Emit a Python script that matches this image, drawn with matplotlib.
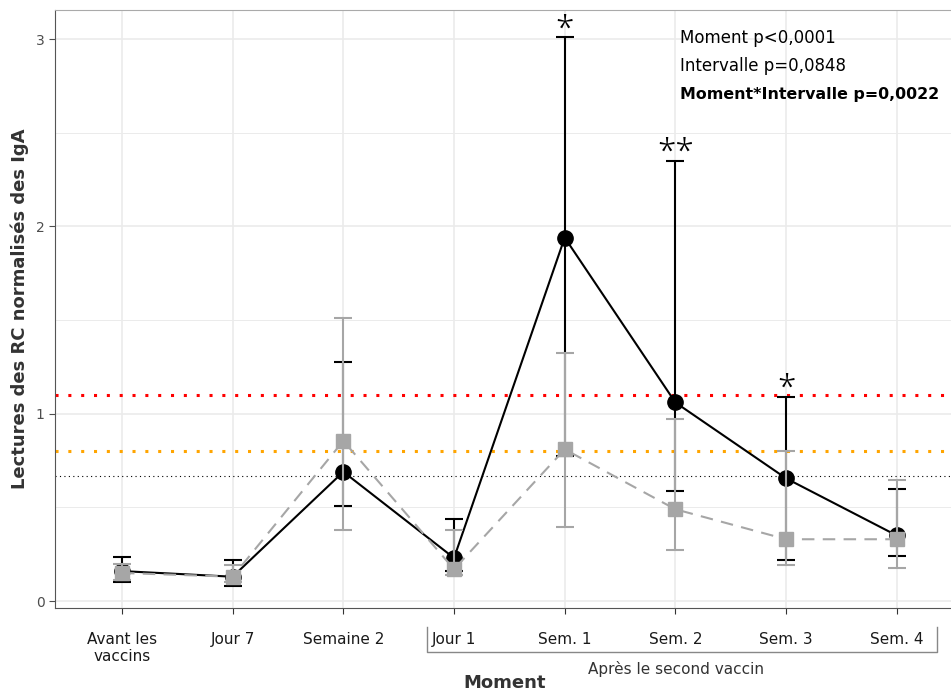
import matplotlib.pyplot as plt
from matplotlib.ticker import MultipleLocator

plt.rcParams['font.family'] = ['DejaVu Sans']

moments = ['Avant les\nvaccins', 'Jour 7', 'Semaine 2', 'Jour 1', 'Sem. 1', 'Sem. 2', 'Sem. 3', 'Sem. 4']
x = list(range(1, len(moments) + 1))

# court intervalle (noir)
noir = [0.16, 0.13, 0.69, 0.23, 1.94, 1.06, 0.655, 0.35]
noir_haut = [0.235, 0.22, 1.275, 0.44, 3.01, 2.35, 1.09, 0.60]
noir_bas = [0.10, 0.08, 0.505, 0.16, 0.775, 0.59, 0.22, 0.24]

# long intervalle (gris)
gris = [0.15, 0.13, 0.855, 0.17, 0.81, 0.49, 0.33, 0.33]
gris_haut = [0.20, 0.19, 1.51, 0.38, 1.325, 0.97, 0.80, 0.645]
gris_bas = [0.11, 0.10, 0.38, 0.14, 0.395, 0.27, 0.19, 0.175]

etoiles = {5: '*', 6: '**', 7: '*'}
seuils = [(1.1, 'red'), (0.8, 'orange'), (0.67, 'black')]

fig = plt.figure(figsize=(9.51, 6.92), dpi=100)
ax = fig.add_axes([55 / 951, 84 / 692, 896 / 951, 598 / 692])

for v, c in seuils:
    if c == 'black':
        ax.axhline(v, color=c, lw=0.8, ls=(0, (1, 3)), zorder=1)
    else:
        ax.axhline(v, color=c, lw=2.2, ls=(0, (1, 3.2)), zorder=1)

ax.errorbar(x, noir, yerr=[[n - b for n, b in zip(noir, noir_bas)], [h - n for n, h in zip(noir, noir_haut)]],
            fmt='none', ecolor='black', elinewidth=1.5, capsize=6.5, capthick=1.5, zorder=2)
ax.plot(x, noir, color='black', lw=1.5, marker='o', ms=11, zorder=3)
ax.errorbar(x, gris, yerr=[[n - b for n, b in zip(gris, gris_bas)], [h - n for n, h in zip(gris, gris_haut)]],
            fmt='none', ecolor='#A6A6A6', elinewidth=1.5, capsize=6.5, capthick=1.5, zorder=4)
ax.plot(x, gris, color='#A6A6A6', lw=1.5, ls=(0, (6, 4)), marker='s', ms=10, zorder=5)

for i, s in etoiles.items():
    ax.text(i, noir_haut[i - 1] + 0.04, s, ha='center', va='center', fontsize=24, family='Open Sans',
            fontweight='light')

ax.text(0.698, 0.953, 'Moment p<0,0001', transform=ax.transAxes, fontsize=12, va='center')
ax.text(0.698, 0.906, 'Intervalle p=0,0848', transform=ax.transAxes, fontsize=12, va='center')
ax.text(0.698, 0.858, 'Moment*Intervalle p=0,0022', transform=ax.transAxes, fontsize=11.4, va='center',
        fontweight='bold')

ax.set_xlim(0.395, 8.49)
ax.set_ylim(-0.037, 3.155)
ax.set_xticks(x)
ax.set_xticklabels(moments, fontsize=11, color='#1a1a1a')
ax.set_yticks([0, 1, 2, 3])
ax.yaxis.set_minor_locator(MultipleLocator(0.5))
ax.tick_params(axis='y', labelsize=10, colors='#4d4d4d', length=4)
ax.tick_params(axis='x', length=4, color='#333333', pad=13)
ax.tick_params(axis='y', which='minor', length=0)
ax.grid(True, which='major', color='#EBEBEB', lw=1.2)
ax.grid(True, which='minor', axis='y', color='#EBEBEB', lw=0.7)
ax.set_axisbelow(True)
for side in ['right', 'bottom', 'left', 'top']:
    ax.spines[side].set_color('#555555')
ax.spines['top'].set_color('#AAAAAA')
ax.spines['right'].set_visible(False)

ax.set_ylabel('Lectures des RC normalisés des IgA', fontsize=13, fontweight='bold', color='#333333', labelpad=5)

# crochet "Après le second vaccin"
fig.add_artist(plt.Line2D([427 / 951, 427 / 951, 937 / 951, 937 / 951],
                          [1 - 627 / 692, 1 - 652 / 692, 1 - 652 / 692, 1 - 627 / 692],
                          color='#888888', lw=1))
fig.text(676 / 951, 1 - 669 / 692, 'Après le second vaccin', ha='center', va='center', fontsize=11, color='#333333')
fig.text(505 / 951, 1 - 683 / 692, 'Moment', ha='center', va='center', fontsize=13, fontweight='bold',
         color='#333333')

fig.savefig('out.png', dpi=100)
